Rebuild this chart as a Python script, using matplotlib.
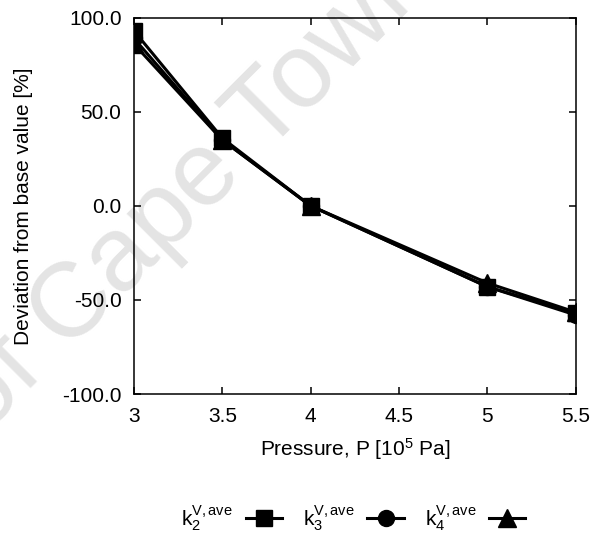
import matplotlib
matplotlib.use('Agg')
import matplotlib.pyplot as plt
from matplotlib.ticker import FormatStrFormatter

plt.rcParams['font.family'] = ['Liberation Sans', 'DejaVu Sans']
plt.rcParams['mathtext.fontset'] = 'custom'
plt.rcParams['mathtext.rm'] = 'Liberation Sans'
plt.rcParams['mathtext.it'] = 'Liberation Sans'
plt.rcParams['axes.unicode_minus'] = False

# pressure in 10^5 Pa, deviation of each rate constant in %
pressure = [3, 3.5, 4, 5, 5.5]
k2_dev = [93, 36, 0, -43, -57]
k3_dev = [89, 35, 0, -43, -58]
k4_dev = [86, 35, 0, -41, -56.5]

labels = [r'$\mathrm{k}_2^{\mathrm{V,ave}}$',
          r'$\mathrm{k}_3^{\mathrm{V,ave}}$',
          r'$\mathrm{k}_4^{\mathrm{V,ave}}$']

x_ticks = [3, 3.5, 4, 4.5, 5, 5.5]
x_ticklabels = ['3', '3.5', '4', '4.5', '5', '5.5']
y_ticks = [-100, -50, 0, 50, 100]

fs = 15

fig = plt.figure(figsize=(6.01, 5.39), dpi=100)
ax = fig.add_axes([0.223, 0.269, 0.735, 0.698])
ax.set_facecolor('none')
ax.set_zorder(2)

# faint watermark behind everything
fig.text(0.73, 1.034, 'University of Cape Town', rotation=45, rotation_mode='anchor',
         ha='right', va='baseline', fontsize=76, color='#e4e4e4', zorder=0)

l4, = ax.plot(pressure, k4_dev, color='black', lw=2.2, marker='^', ms=13, zorder=3)
l3, = ax.plot(pressure, k3_dev, color='black', lw=2.2, marker='o', ms=11.5, zorder=3)
l2, = ax.plot(pressure, k2_dev, color='black', lw=2.2, marker='s', ms=11.5, zorder=3)

ax.set_xlim(3, 5.5)
ax.set_ylim(-100, 100)
ax.set_xticks(x_ticks)
ax.set_xticklabels(x_ticklabels)
ax.set_yticks(y_ticks)
ax.yaxis.set_major_formatter(FormatStrFormatter('%.1f'))
ax.tick_params(direction='in', top=True, right=True, length=5, width=1.1,
               labelsize=fs, pad=9)
for sp in ax.spines.values():
    sp.set_linewidth(1.1)

ax.set_xlabel('Pressure, P [10$^5$ Pa]', fontsize=fs)
ax.set_ylabel('Deviation from base value [%]', fontsize=fs)
ax.xaxis.set_label_coords(0.5, -0.112)
ax.yaxis.set_label_coords(-0.228, 0.5)

fig.legend([l2, l3, l4], labels, loc='center', bbox_to_anchor=(0.588, 0.037),
           ncol=3, frameon=False, markerfirst=False, fontsize=fs,
           handlelength=1.75, handletextpad=0.6, columnspacing=1.0)

fig.savefig('out.png', dpi=100)
